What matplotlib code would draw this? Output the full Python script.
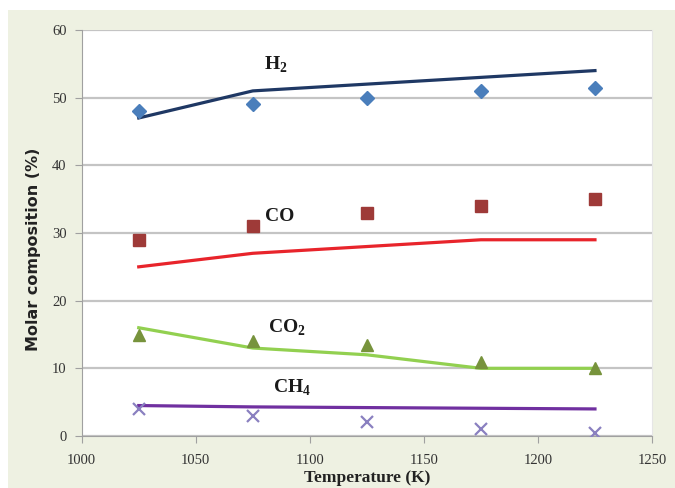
import matplotlib
matplotlib.use('Agg')
import matplotlib.pyplot as plt
from matplotlib.patches import Rectangle

plt.rcParams['mathtext.fontset'] = 'custom'
plt.rcParams['mathtext.rm'] = 'Liberation Serif'
plt.rcParams['mathtext.bf'] = 'Liberation Serif:bold'

# temperature points (K)
temp = [1025, 1075, 1125, 1175, 1225]

# experimental points (markers)
h2_exp = [48, 49, 50, 51, 51.5]
co_exp = [29, 31, 33, 34, 35]
co2_exp = [15, 14, 13.5, 11, 10]
ch4_exp = [4, 3, 2, 1, 0.5]

# model lines
h2_mod = [47, 51, 52, 53, 54]
co_mod = [25, 27, 28, 29, 29]
co2_mod = [16, 13, 12, 10, 10]
ch4_mod = [4.5, 4.3, 4.2, 4.1, 4.0]

xticks = [1000, 1050, 1100, 1150, 1200, 1250]
yticks = [0, 10, 20, 30, 40, 50, 60]

fig = plt.figure(figsize=(6.75, 4.88), dpi=100)
fig.patch.set_facecolor('white')
# pale green panel behind the chart
fig.patches.append(Rectangle((8 / 675, 0), 1, 1 - 10 / 488, transform=fig.transFigure,
                             facecolor='#eef1e2', edgecolor='none', zorder=-10))

ax = fig.add_axes([81.7 / 675, 1 - 436 / 488, (652 - 81.7) / 675, (436 - 30) / 488])
ax.set_facecolor('white')

# model lines
ax.plot(temp, h2_mod, color='#1f3864', lw=2.3, zorder=3)
ax.plot(temp, co_mod, color='#e8242b', lw=2.3, zorder=3)
ax.plot(temp, co2_mod, color='#92d050', lw=2.3, zorder=3)
ax.plot(temp, ch4_mod, color='#7030a0', lw=2.3, zorder=3)

# experimental markers
ax.plot(temp, h2_exp, 'D', color='#4a7ebb', ms=7, ls='none', zorder=4)
ax.plot(temp, co_exp, 's', color='#9e3a38', ms=9, ls='none', zorder=4)
ax.plot(temp, co2_exp, '^', color='#77933c', ms=8, ls='none', zorder=4)
ax.plot(temp, ch4_exp, 'x', color='#8a80c0', ms=9, mew=1.6, ls='none', zorder=4)

# species labels
lab = dict(family='Liberation Serif', fontsize=14, fontweight='bold',
           ha='center', va='center', color='#1a1a1a')
ax.text(1085, 54.8, r'H$_\mathbf{2}$', **lab)
ax.text(1087, 32.4, 'CO', **lab)
ax.text(1090, 16.0, r'CO$_\mathbf{2}$', **lab)
ax.text(1092, 7.1, r'CH$_\mathbf{4}$', **lab)

ax.set_xlim(1000, 1250)
ax.set_ylim(0, 60)
ax.set_xticks(xticks)
ax.set_yticks(yticks)
ax.yaxis.grid(True, color='#c4c4c4', lw=1.6)
ax.set_axisbelow(True)

ax.spines['top'].set_visible(False)
ax.spines['right'].set_color('#e6e6e6')
ax.spines['left'].set_color('#a0a0a0')
ax.spines['bottom'].set_color('#a0a0a0')
ax.tick_params(axis='both', colors='#a0a0a0', length=5, labelcolor='#333333',
               labelsize=10.5)
ax.tick_params(axis='x', pad=8)
ax.tick_params(axis='y', pad=6)
for t in ax.get_xticklabels() + ax.get_yticklabels():
    t.set_family('Liberation Serif')

ax.set_xlabel('Temperature (K)', family='Liberation Serif', fontweight='bold',
              fontsize=12.5, labelpad=2, color='#222222')
ax.set_ylabel('Molar composition (%)', fontweight='bold', fontsize=11.5,
              labelpad=8, color='#222222')
ax.yaxis.set_label_coords(-0.072, 0.46)

fig.savefig('out.png', dpi=100, facecolor=fig.get_facecolor())
